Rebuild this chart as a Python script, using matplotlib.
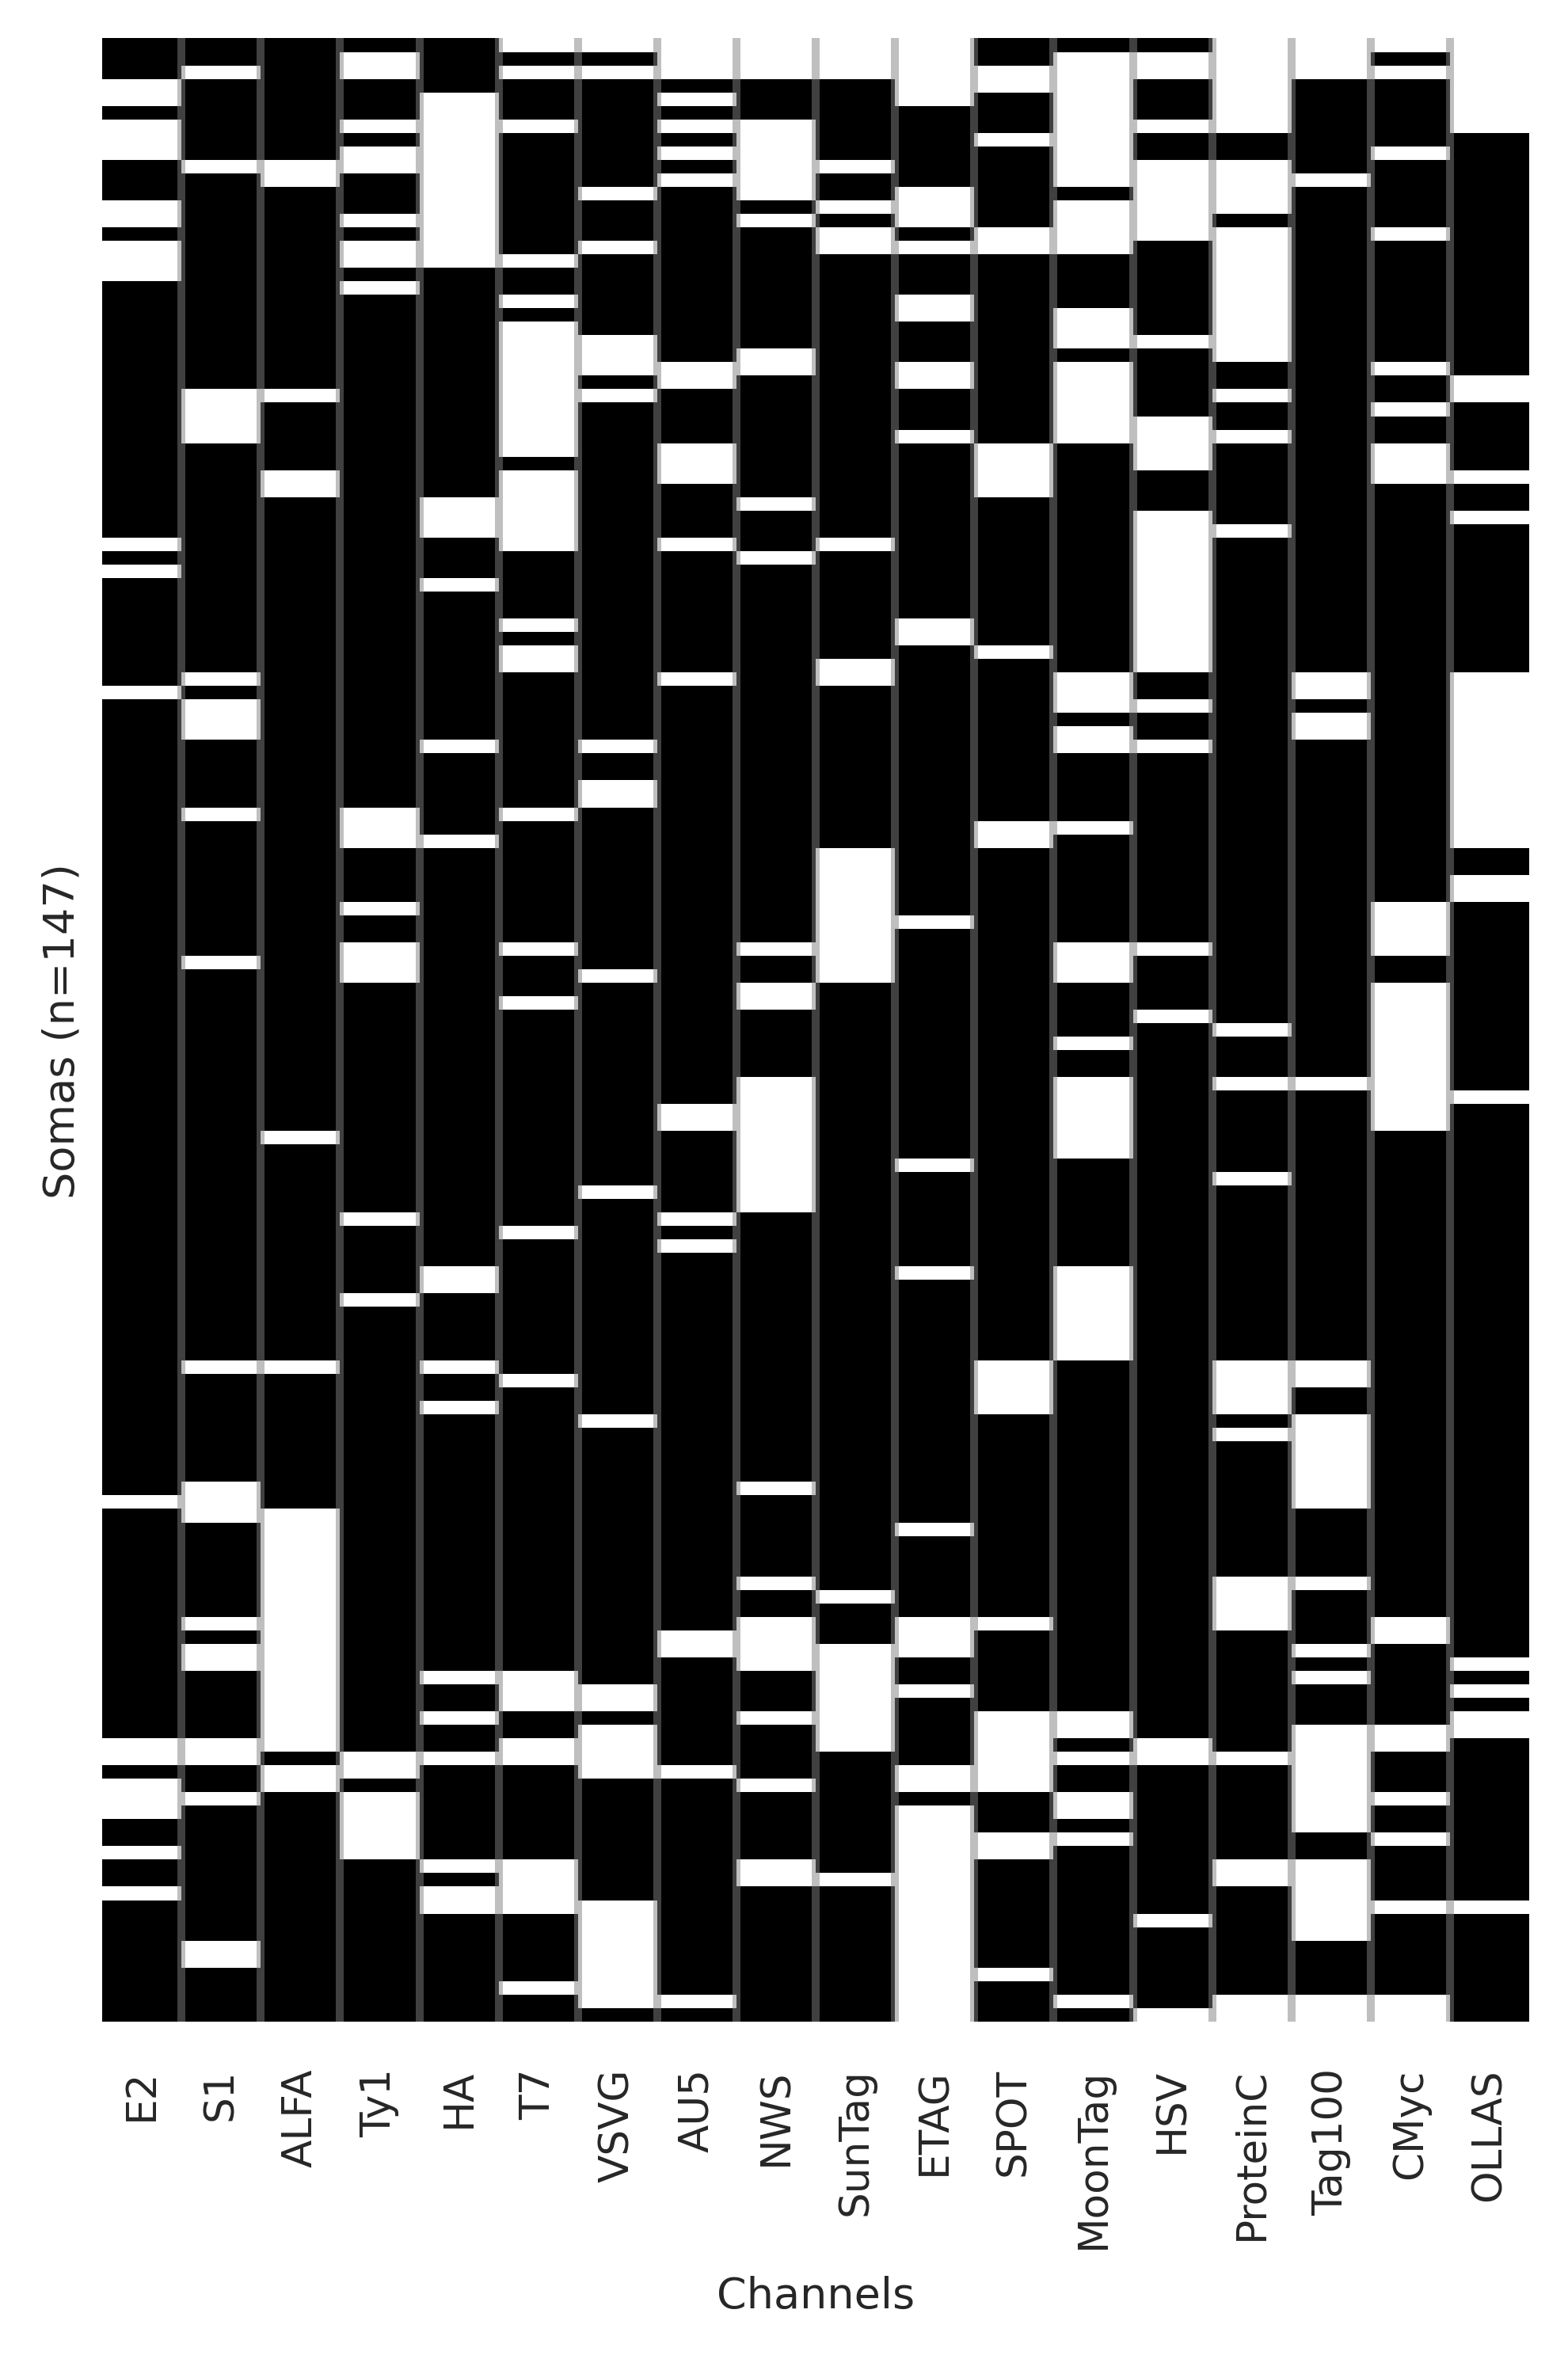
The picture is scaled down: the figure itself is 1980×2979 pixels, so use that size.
import numpy as np
import matplotlib
matplotlib.use("Agg")
import matplotlib.pyplot as plt

channels = ["E2", "S1", "ALFA", "Ty1", "HA", "T7", "VSVG", "AU5", "NWS", "SunTag",
            "ETAG", "SPOT", "MoonTag", "HSV", "ProteinC", "Tag100", "CMyc", "OLLAS"]
n_somas = 147

def rng(a, b):
    return list(range(a, b + 1))

# rows (somas) in which each channel is absent (white cells)
absent_E2 = [3, 4, 6, 7, 8, 12, 13, 15, 16, 17, 37, 39, 48, 108, 126, 127, 129, 130, 131, 134, 137]
absent_S1 = [2, 9] + rng(26, 29) + [47, 49, 50, 51, 57, 68, 98, 107, 108, 109, 117, 119, 120,
                                    126, 127, 130, 141, 142]
absent_ALFA = [9, 10, 26, 32, 33, 81, 98] + rng(109, 126) + [128, 129]
absent_Ty1 = [1, 2, 6, 8, 9, 13, 15, 16, 18, 57, 58, 59, 64, 67, 68, 69, 87, 93, 127, 128] + rng(130, 134)
absent_HA = rng(4, 16) + [34, 35, 36, 40, 52, 59, 91, 92, 98, 101, 121, 124, 127, 135, 137, 138]
absent_T7 = [0, 2, 6, 16, 19] + rng(21, 30) + rng(32, 37) + [43, 45, 46, 57, 67, 71, 88, 99,
                                                            121, 122, 123, 126, 127] + rng(135, 138) + [144]
absent_VSVG = [0, 2, 11, 15, 22, 23, 24, 26, 52, 55, 56, 69, 85, 102, 122, 123] + rng(125, 128) + rng(138, 145)
absent_AU5 = [0, 1, 2, 4, 6, 8, 10, 24, 25, 30, 31, 32, 37, 47, 79, 80, 87, 89, 118, 119, 128, 145]
absent_NWS = [0, 1, 2] + rng(6, 11) + [13, 23, 24, 34, 38, 67, 70, 71] + rng(77, 86) + \
             [107, 114] + rng(117, 120) + [124, 129, 135, 136]
absent_SunTag = [0, 1, 2, 9, 12, 14, 15, 37, 46, 47] + rng(60, 69) + [115] + rng(119, 126) + [136]
absent_ETAG = rng(0, 4) + [11, 12, 13, 15, 19, 20, 24, 25, 29, 43, 44, 65, 83, 91, 110,
                           117, 118, 119, 122, 128, 129] + rng(131, 146)
absent_SPOT = [2, 3, 7, 14, 15] + rng(30, 33) + [45, 58, 59] + rng(98, 101) + [117] + \
              rng(124, 129) + [133, 134, 143]
absent_MoonTag = rng(1, 10) + rng(12, 15) + [20, 21, 22] + rng(24, 29) + [47, 48, 49, 51, 52, 58,
                 67, 68, 69, 74] + rng(77, 82) + rng(91, 97) + [124, 125, 127, 130, 131, 133, 145]
absent_HSV = [1, 2, 6] + rng(9, 14) + [22] + rng(28, 31) + rng(35, 46) + [49, 52, 67, 72, 126, 127, 139, 146]
absent_ProteinC = rng(0, 6) + rng(9, 12) + rng(14, 23) + [26, 29, 36, 73, 77, 84] + rng(98, 101) + \
                  [103] + rng(114, 117) + [127, 135, 136, 145, 146]
absent_Tag100 = [0, 1, 2, 10, 47, 48, 50, 51, 77, 98, 99] + rng(102, 108) + [114, 119, 121] + \
                rng(125, 132) + rng(135, 140) + [145, 146]
absent_CMyc = [0, 2, 8, 14, 24, 27, 30, 31, 32] + rng(64, 67) + rng(70, 80) + \
              [117, 118, 125, 126, 130, 133, 138, 145, 146]
absent_OLLAS = rng(0, 6) + [25, 26, 32, 35] + rng(47, 59) + [62, 63, 78, 120, 122, 124, 125, 138]

absent = [absent_E2, absent_S1, absent_ALFA, absent_Ty1, absent_HA, absent_T7, absent_VSVG,
          absent_AU5, absent_NWS, absent_SunTag, absent_ETAG, absent_SPOT, absent_MoonTag,
          absent_HSV, absent_ProteinC, absent_Tag100, absent_CMyc, absent_OLLAS]

matrix = np.ones((n_somas, len(channels)))
for j, rows in enumerate(absent):
    matrix[rows, j] = 0

text_color = "#262626"
fig = plt.figure(figsize=(6.6, 9.9333), dpi=300)
ax = fig.add_axes([0.0652, 0.1430, 0.9753 - 0.0652, 0.9834 - 0.1430])

ax.pcolormesh(np.arange(len(channels) + 1), np.arange(n_somas + 1), matrix,
              cmap="Greys", vmin=0, vmax=1, shading="flat")
ax.set_xlim(0, len(channels))
ax.set_ylim(n_somas, 0)

for x in range(1, len(channels)):
    ax.axvline(x, color="gray", alpha=0.5, lw=2.4)

for s in ax.spines.values():
    s.set_visible(False)

ax.set_xticks(np.arange(len(channels)) + 0.5)
ax.set_xticklabels(channels, rotation=90, fontsize=12.4, color=text_color)
ax.tick_params(axis="x", length=0, pad=14)
ax.set_yticks([])
ax.set_xlabel("Channels", fontsize=13, color=text_color, labelpad=8)
ax.set_ylabel("Somas (n=147)", fontsize=13, color=text_color, labelpad=6)

fig.savefig("out.png", dpi=300)
